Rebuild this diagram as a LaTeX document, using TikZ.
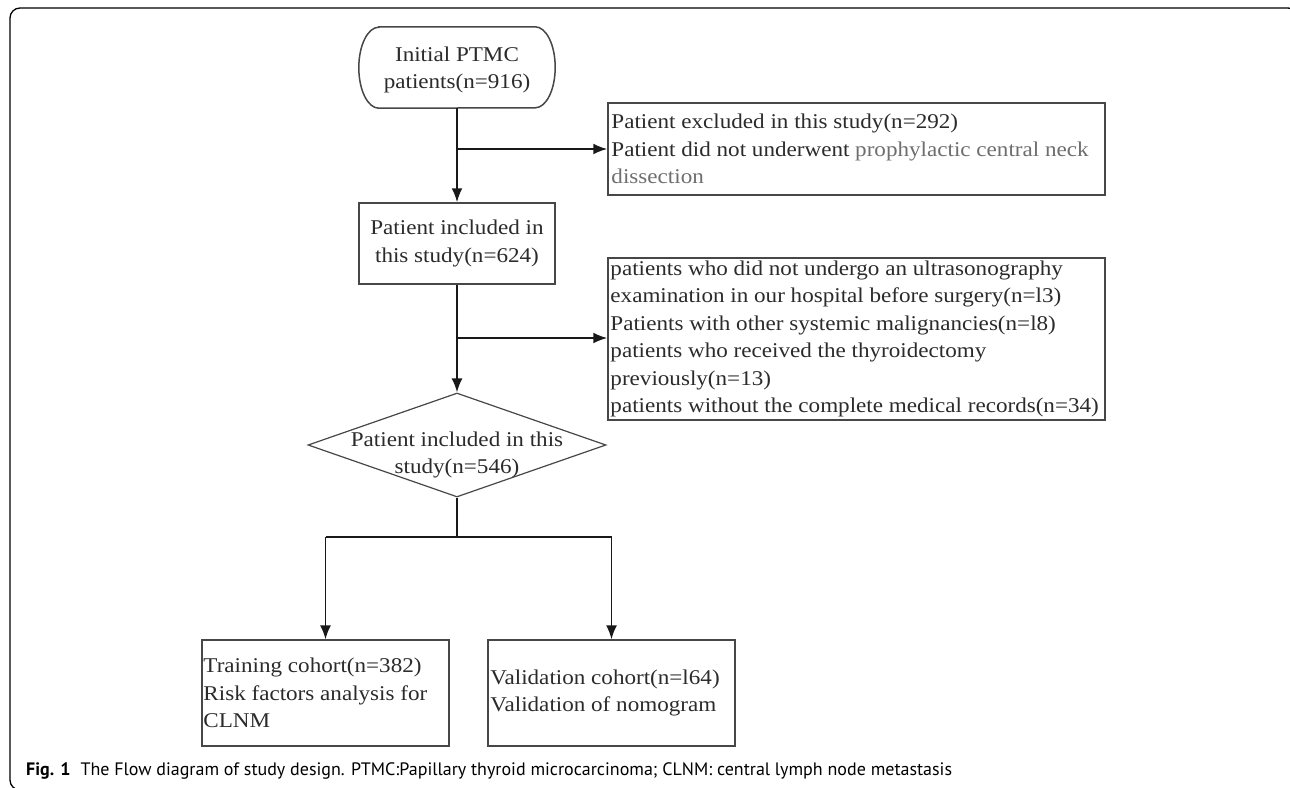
\documentclass[tikz,border=0pt]{standalone}
\usepackage{fontspec}
\setmainfont{Liberation Serif}[FakeStretch=1.1]
\newfontfamily\capfont{PT Sans}
\usetikzlibrary{arrows.meta,shapes.geometric}
\definecolor{txtc}{HTML}{2B2B2B}
\definecolor{boxc}{HTML}{474747}
\definecolor{lightt}{HTML}{6E6E6E}
\begin{document}
\begin{tikzpicture}[x=1pt,y=-1pt,
  box/.style={draw=boxc, line width=1.5pt, inner sep=0pt, fill=white},
  hidden/.style={inner sep=0pt},
  txt/.style={text=txtc, font=\fontsize{21}{27.4}\selectfont, inner sep=0pt},
  flow/.style={draw=black!90, line width=1.9pt, -{Latex[length=14pt,width=11pt]}},
  plain/.style={draw=black!90, line width=1.9pt}]
\useasboundingbox (0,0) rectangle (1290,787);
\clip (0,0) rectangle (1290,787);
\fill[white] (0,0) rectangle (1290,787);
% outer frame
\draw[line width=1.3pt, rounded corners=10pt] (10,8) rectangle (1298,790);

% start terminal (stadium)
\node[hidden, minimum width=196pt, minimum height=81pt] (start) at (457,67.5) {};
\draw[box] ([xshift=20pt]start.north west) -- ([xshift=-20pt]start.north east)
   arc[start angle=90, end angle=-90, x radius=20pt, y radius=40.5pt]
   -- ([xshift=20pt]start.south west)
   arc[start angle=270, end angle=90, x radius=20pt, y radius=40.5pt] -- cycle;
\node[txt, align=center] (starttxt) at (457,70) {Initial PTMC\\patients(n=916)};

% included 1
\node[box, minimum width=196pt, minimum height=81pt] (inc) at (457,243.5) {};
\node[txt, align=center] (inctxt) at (inc.center) {Patient included in\\this study(n=624)};

% exclusion 1
\node[box, minimum width=497pt, minimum height=92pt] (exa) at (856.5,149) {};
\node[txt, align=left, anchor=west] (exatxt) at ([xshift=4pt]exa.west)
  {Patient excluded in this study(n=292)\\Patient did not underwent {\color{lightt}prophylactic central neck}\\{\color{lightt}dissection}};

% exclusion 2
\node[box, minimum width=497pt, minimum height=162pt] (exb) at (856.5,339) {};
\node[txt, align=left, anchor=west] (exbtxt) at ([xshift=3pt]exb.west)
  {patients who did not undergo an ultrasonography\\examination in our hospital before surgery(n=l3)\\Patients with other systemic malignancies(n=l8)\\patients who received the thyroidectomy\\previously(n=13)\\patients without the complete medical records(n=34)};

% decision diamond
\node[diamond, box, line width=1.2pt, minimum width=298pt, minimum height=104pt] (dia) at (457,445) {};
\node[txt, align=center] (diatxt) at (457,455) {Patient included in this\\study(n=546)};

% bottom boxes
\node[box, minimum width=247pt, minimum height=106pt] (trn) at (325.5,693) {};
\node[txt, align=left, anchor=west] (trntxt) at ([xshift=2pt]trn.west)
  {Training cohort(n=382)\\Risk factors analysis for\\CLNM};
\node[box, minimum width=247pt, minimum height=106pt] (val) at (611.5,693) {};
\node[txt, align=left, anchor=west] (valtxt) at ([xshift=3pt]val.west)
  {Validation cohort(n=l64)\\Validation of nomogram};

% connectors
\coordinate (b1) at (457,149);
\coordinate (b2) at (457,338);
\coordinate (b3) at (457,537);
\coordinate (bl) at (trn.north |- b3);
\coordinate (br) at (val.north |- b3);
\draw[flow] (start.south) -- (inc.north);
\draw[flow] (b1) -- (exa.west);
\draw[flow] (inc.south) -- (dia.north);
\draw[flow] (b2) -- (b2 -| exb.west);
\draw[plain] (dia.south) -- (b3);
\draw[plain] (bl) -- (br);
\draw[flow, line width=1.5pt] (bl) -- (trn.north);
\draw[flow, line width=1.5pt] (br) -- (val.north);

% caption
\node[anchor=base west, inner sep=0pt, text=black, font=\capfont\fontsize{18}{20}\selectfont] (cap) at (26,775)
  {\textbf{Fig. 1}\hspace{10pt}The Flow diagram of study design. PTMC:Papillary thyroid microcarcinoma; CLNM: central lymph node metastasis};
\end{tikzpicture}
\end{document}
